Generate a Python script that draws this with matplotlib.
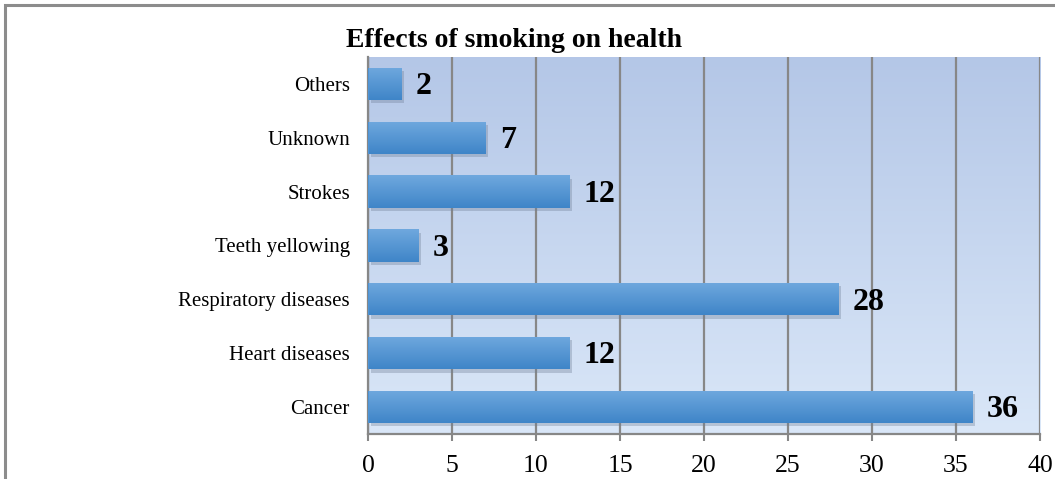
import matplotlib.pyplot as plt
import numpy as np
from matplotlib.patches import Rectangle

categories = ["Cancer", "Heart diseases", "Respiratory diseases", "Teeth yellowing",
              "Strokes", "Unknown", "Others"]
values = [36, 12, 28, 3, 12, 7, 2]
xticks = [0, 5, 10, 15, 20, 25, 30, 35, 40]

plt.rcParams['font.family'] = ['Liberation Serif', 'DejaVu Serif']

fig = plt.figure(figsize=(10.55, 4.79), dpi=100)
ax = fig.add_axes([0.3488, 0.094, 0.6370, 0.787])

# outer chart frame
fig.patches.append(Rectangle((5 / 1055, -0.1), 1.2, 1 - 5 / 479 + 0.1,
                             transform=fig.transFigure, fill=False,
                             edgecolor='#8c8c8c', linewidth=2.2, zorder=0))

ax.set_xlim(0, 40)
ax.set_ylim(-0.5, len(categories) - 0.5)

# background gradient (darker at top)
bg = np.linspace(0, 1, 256).reshape(-1, 1)
top = np.array([0.706, 0.780, 0.906])
bot = np.array([0.855, 0.906, 0.973])
bg_img = top + (bot - top) * bg[..., None]
ax.imshow(bg_img, extent=[0, 40, -0.5, len(categories) - 0.5], aspect='auto',
          origin='upper', zorder=0)

ypos = np.arange(len(categories))
bars = ax.barh(ypos, values, height=0.6, color='#4f94d4', zorder=3)

# bar gradient and shadow
g = np.linspace(0, 1, 64).reshape(-1, 1)
light = np.array([0.435, 0.659, 0.871])
dark = np.array([0.247, 0.522, 0.784])
bar_img = light + (dark - light) * g[..., None]
for b, v in zip(bars, values):
    y0 = b.get_y()
    h = b.get_height()
    ax.add_patch(Rectangle((0.15, y0 - 0.06), v, h, facecolor='#6f7f96',
                           alpha=0.35, edgecolor='none', zorder=2))
    im = ax.imshow(bar_img, extent=[0.05, v, y0, y0 + h], aspect='auto',
                   origin='upper', zorder=4)
    im.set_clip_path(b)
    ax.text(v + 0.85, y0 + h / 2 - 0.05, str(v), va='center', ha='left',
            fontsize=23, fontweight='bold', zorder=5)

ax.set_xticks(xticks)
ax.set_yticks(ypos)
ax.set_yticklabels(categories, fontsize=15)
ax.tick_params(axis='y', length=0, pad=13)
ax.tick_params(axis='x', length=5, width=1.5, color='#878787', labelsize=18.5, pad=10)
ax.xaxis.grid(True, color='#878787', linewidth=1.6, zorder=1)
ax.set_axisbelow(True)

for s in ['top', 'right']:
    ax.spines[s].set_visible(False)
for s in ['left', 'bottom']:
    ax.spines[s].set_color('#878787')
    ax.spines[s].set_linewidth(1.6)

fig.text(0.328, 0.915, "Effects of smoking on health", fontsize=20,
         fontweight='bold', ha='left', va='center')

fig.savefig('out.png', dpi=100)
